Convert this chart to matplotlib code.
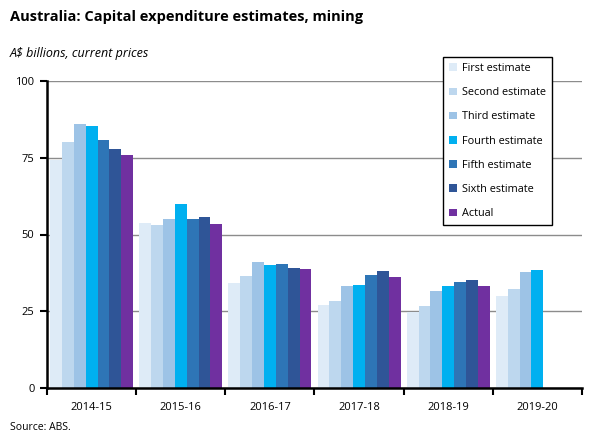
import matplotlib
matplotlib.use("Agg")
import matplotlib.pyplot as plt
import numpy as np

years = ["2014-15", "2015-16", "2016-17", "2017-18", "2018-19", "2019-20"]
series_names = ["First estimate", "Second estimate", "Third estimate", "Fourth estimate",
                "Fifth estimate", "Sixth estimate", "Actual"]
first = [74.2, 53.7, 34.1, 27.0, 24.8, 29.9]
second = [80.1, 53.0, 36.4, 28.3, 26.6, 32.2]
third = [86.0, 55.0, 41.0, 33.2, 31.5, 37.7]
fourth = [85.3, 59.9, 40.0, 33.5, 33.2, 38.4]
fifth = [80.8, 55.0, 40.3, 36.7, 34.5, np.nan]
sixth = [77.8, 55.7, 39.0, 38.0, 35.1, np.nan]
actual = [75.9, 53.4, 38.7, 36.1, 33.2, np.nan]
colors = ["#DEEBF7", "#BDD7EE", "#9DC3E6", "#00B0F0", "#2E75B6", "#2F5597", "#7030A0"]

plt.rcParams['font.family'] = ['Open Sans', 'DejaVu Sans']

fig = plt.figure(figsize=(6.06, 4.47), dpi=100)
ax = fig.add_axes([47/606, 1-388/447, (582-47)/606, (388-81)/447])

data = [first, second, third, fourth, fifth, sixth, actual]
n = len(data)
x = np.arange(len(years))
bw = 0.93 / n
for i, (vals, c, name) in enumerate(zip(data, colors, series_names)):
    ax.bar(x - 0.465 + bw * (i + 0.5), vals, width=bw, color=c, label=name, linewidth=0)

ax.set_xlim(-0.5, len(years) - 0.5)
ax.set_ylim(0, 100)
ax.set_yticks([0, 25, 50, 75, 100])
ax.yaxis.grid(True, color="#8C8C8C", linewidth=1)
ax.set_axisbelow(True)
ax.set_xticks(x)
ax.set_xticklabels(years, fontsize=8)
ax.set_xticks(np.arange(-0.5, len(years)), minor=True)
ax.tick_params(axis='x', which='major', length=0, pad=10)
ax.tick_params(axis='x', which='minor', length=5, width=1.5, direction='out', color='black')
ax.tick_params(axis='y', length=5, width=1.5, direction='out', labelsize=8, pad=4)
for s in ['top', 'right']:
    ax.spines[s].set_visible(False)
for s in ['left', 'bottom']:
    ax.spines[s].set_linewidth(1.8)

leg = fig.legend(loc='upper left', bbox_to_anchor=(443/606, 1-57/447), fontsize=7.8,
                 frameon=True, fancybox=False, edgecolor='black', framealpha=1,
                 handlelength=0.7, handleheight=0.7, handletextpad=0.55,
                 labelspacing=1.22, borderpad=0.55, borderaxespad=0)
leg.get_frame().set_linewidth(1.0)

fig.text(10/606, 1-17/447, "Australia: Capital expenditure estimates, mining",
         fontsize=10.5, fontweight='bold', va='center', ha='left')
fig.text(10/606, 1-53/447, "A$ billions, current prices", fontsize=9,
         style='italic', va='center', ha='left')
fig.text(10/606, 1-427/447, "Source: ABS.", fontsize=7.5, va='center', ha='left')

fig.savefig("out.png", dpi=100)
